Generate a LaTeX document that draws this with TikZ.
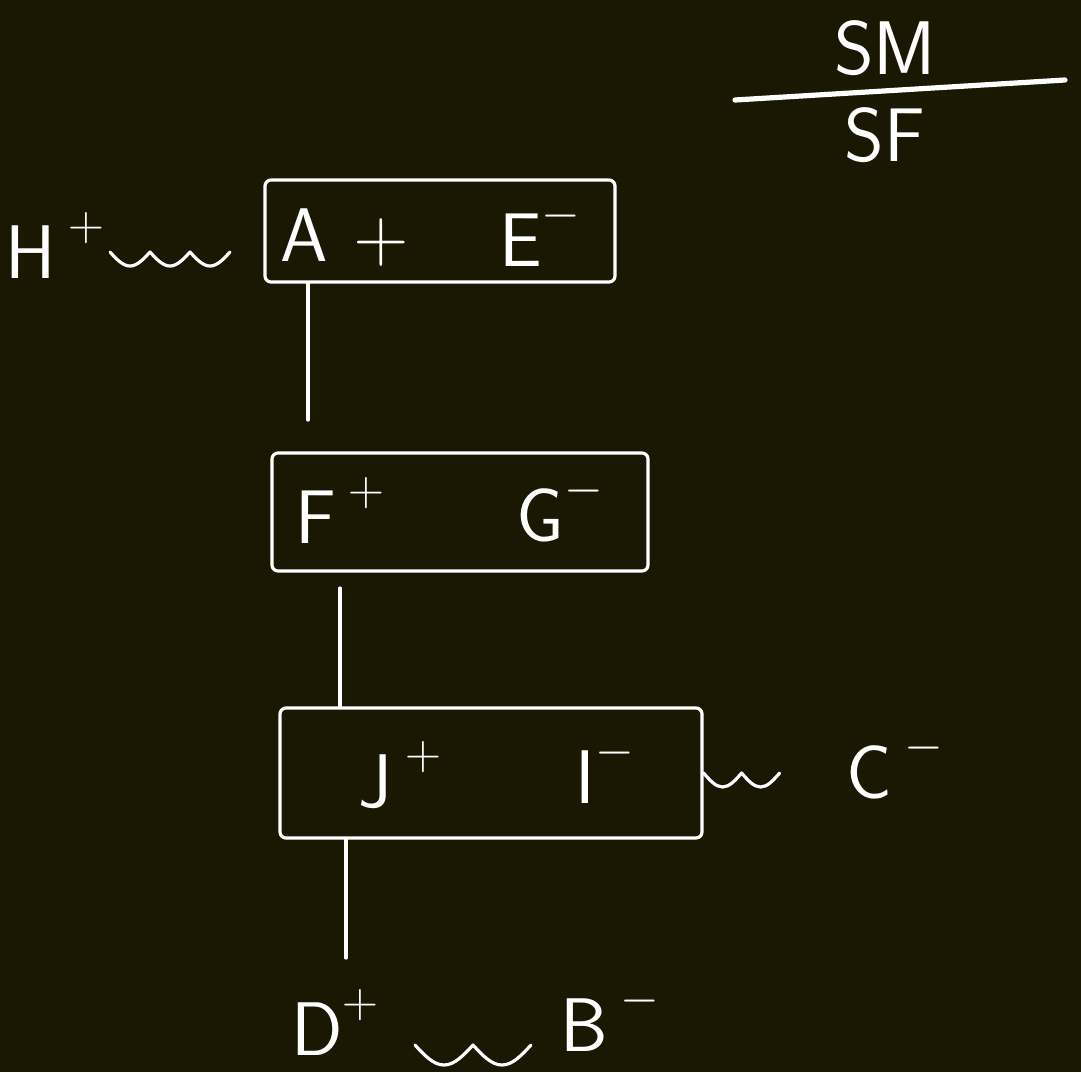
\documentclass[tikz,border=0pt]{standalone}
\usepackage{tikz}
\definecolor{board}{HTML}{1A1803}
\definecolor{chalk}{HTML}{FFFFFF}
\newcommand\chg[1]{\raisebox{.5em}{\fontsize{28}{30}\selectfont$#1$}}
\tikzset{pg/.style={x=.5pt,y=-.5pt,line width=1.6pt,chalk,line cap=round,line join=round},
  ion/.style={font=\fontsize{38}{44}\selectfont\sffamily,inner sep=0pt},
  pair/.style={draw,rounded corners=3pt,inner sep=0pt}}

\begin{document}
\begin{tikzpicture}[pg]
  \fill[board] (0,0) rectangle (1081,1072);
  % boxes
  \node[pair,minimum width=175pt,minimum height=51pt] (b1) at (440,231) {};
  \node[pair,minimum width=188pt,minimum height=59pt] (b2) at (460,512) {};
  \node[pair,minimum width=211pt,minimum height=65pt] (b3) at (491,773) {};
  \node[ion] (a) at (345,238) {A\,\,+};
  \node[ion] (e) at (540,233) {E\chg{-}};
  \node[ion] (f) at (340,510) {F\,\chg{+}};
  \node[ion] (g) at (560,508) {G\chg{-}};
  \node[ion] (j) at (400,775) {J\,\chg{+}};
  \node[ion] (i) at (605,770) {I\chg{-}};
  % outside ions
  \node[ion] (h) at (55,245) {H\,\chg{+}};
  \node[ion] (c) at (895,765) {C\,\chg{-}};
  \node[ion] (d) at (335,1022) {D\chg{+}};
  \node[ion] (bm) at (610,1018) {B\,\chg{-}};
  \node[ion] (sm) at (885,48) {SM};
  \node[ion] (sf) at (885,135) {SF};
  \coordinate (fl) at (735,100); \coordinate (fr) at (1065,80);
  \draw[line width=2.6pt] (fl) -- (fr);
  % links
  \coordinate (l1) at (308,420); \coordinate (l2) at (340,588); \coordinate (l3) at (346,958);
  \draw (b1.south -| l1) -- (l1);
  \draw (l2) -- (l2 |- b3.north);
  \draw (b3.south -| l3) -- (l3);
  % wavy bonds
  \coordinate (w1) at (110,252); \coordinate (w3) at (415,1045);
  \draw (w1) \foreach \k in {1,2,3}{ sin ++(20,14) cos ++(20,-14)};
  \draw (b3.east) \foreach \k in {1,2}{ sin ++(19,14) cos ++(19,-14)};
  \draw (w3) \foreach \k in {1,2}{ sin ++(29,20) cos ++(29,-20)};
\end{tikzpicture}
\end{document}
